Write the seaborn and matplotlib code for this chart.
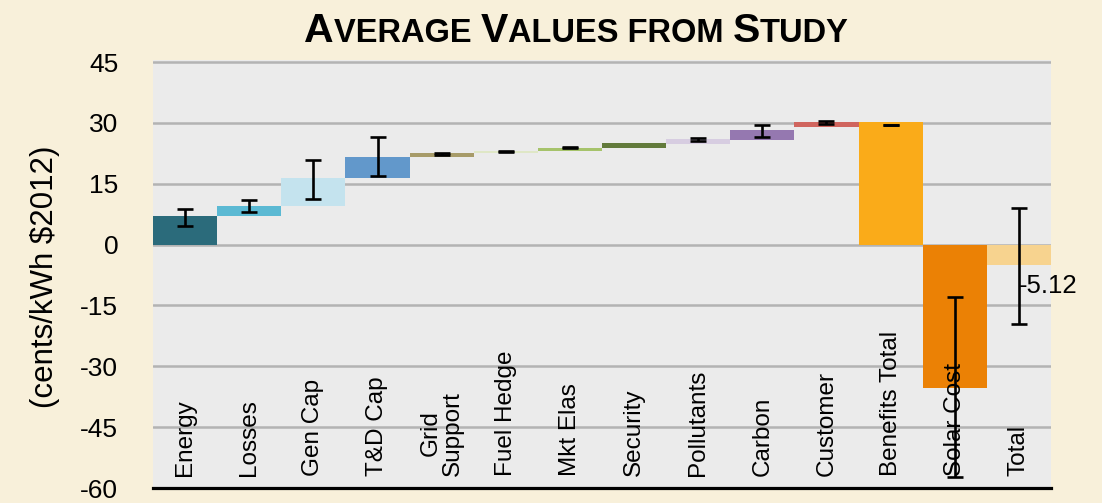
import numpy as np
import pandas as pd
import matplotlib
matplotlib.use("Agg")
import matplotlib.pyplot as plt
import seaborn as sns

# ---- data (cents/kWh, $2012) ----
categories = ["Energy", "Losses", "Gen Cap", "T&D Cap", "Grid\nSupport", "Fuel Hedge",
              "Mkt Elas", "Security", "Pollutants", "Carbon", "Customer",
              "Benefits Total", "Solar Cost", "Total"]
# where each floating bar starts and how much it adds
starts = [0.0, 7.05, 9.5, 16.4, 21.6, 22.65, 22.95, 23.85, 24.9, 25.8, 29.05, 0.0, 0.0, 0.0]
values = [7.05, 2.45, 6.9, 5.2, 1.05, 0.4, 0.9, 1.25, 1.1, 2.4, 1.15, 30.2, -35.32, -5.12]
# range of study estimates around each point
err_low = [4.5, 7.96, 11.24, 16.9, 22.2, 22.75, 23.75, np.nan, 25.5, 26.45, 29.8, 29.4, -57.36, -19.5]
err_high = [8.85, 11.0, 20.8, 26.5, 22.5, 23.05, 24.05, np.nan, 26.2, 29.45, 30.5, 29.6, -13.0, 9.1]
colors = ["#2b6b7b", "#5bb9d3", "#c4e3ee", "#6298cb", "#a79b69", "#dfe7c6", "#a6c36b",
          "#627a3b", "#d7cde1", "#9578b0", "#d0655e", "#faab19", "#eb8105", "#f7d38f"]
yticks = [45, 30, 15, 0, -15, -30, -45, -60]
title_parts = [("A", True), ("VERAGE ", False), ("V", True), ("ALUES FROM ", False),
               ("S", True), ("TUDY", False)]

sns.set_theme(style="white")
plt.rcParams["font.family"] = ["Liberation Sans", "DejaVu Sans"]
plt.rcParams["text.color"] = "black"
plt.rcParams["axes.labelcolor"] = "black"
plt.rcParams["ytick.color"] = "black"
plt.rcParams["xtick.color"] = "black"

BG = "#f8f0da"
PANEL = "#ebebeb"

fig = plt.figure(figsize=(11.02, 5.03), dpi=100, facecolor=BG)
ax = fig.add_axes([153 / 1102, 15 / 503, 898 / 1102, 428 / 503])
ax.set_facecolor(PANEL)

df = pd.DataFrame({"cat": categories, "val": values})
sns.barplot(data=df, x="cat", y="val", hue="cat", palette=colors, order=categories,
            hue_order=categories, width=1.0, errorbar=None, legend=False, ax=ax,
            saturation=1.0, linewidth=0, zorder=3)

# lift each bar to its waterfall starting level
for rect, s in zip(ax.patches, starts):
    rect.set_y(rect.get_y() + s)

# error bars
lo = np.array(err_low)
hi = np.array(err_high)
mid = (lo + hi) / 2
xs = np.arange(len(categories))
ok = ~np.isnan(mid)
ax.errorbar(xs[ok], mid[ok], yerr=[mid[ok] - lo[ok], hi[ok] - mid[ok]], fmt="none",
            ecolor="black", elinewidth=1.9, capsize=5.5, capthick=1.9, zorder=5)

ax.set_xlim(-0.5, len(categories) - 0.5)
ax.set_ylim(-60, 45.5)
ax.set_yticks(yticks)
ax.set_yticklabels([str(t) for t in yticks], fontsize=19)
ax.tick_params(axis="y", length=0, pad=25, labelcolor="black")
ax.set_xticks([])
ax.set_xlabel("")
ax.set_ylabel("(cents/kWh $2012)", fontsize=22.5, color="black")
ax.yaxis.set_label_coords(-0.1036, 0.493)

ax.grid(False)
for t in yticks[:-1]:
    ax.axhline(t, color="#b3b3b3", linewidth=1.8, zorder=1)

for side in ["top", "right", "left"]:
    ax.spines[side].set_visible(False)
ax.spines["bottom"].set_color("black")
ax.spines["bottom"].set_linewidth(2.3)
ax.spines["bottom"].set_position(("data", -60))
ax.spines["bottom"].set_zorder(6)

# category labels written upward inside the panel
for i, c in enumerate(categories):
    ax.text(i, -57.0, c, rotation=90, ha="center", va="bottom", fontsize=17.5,
            color="black", multialignment="center", linespacing=1.0, zorder=4)

# value of the net total
ax.text(len(categories) - 1, -10.2, f"{values[-1]:.2f}", ha="left", va="center",
        fontsize=18.5, color="black", clip_on=False, zorder=6)

# small-caps title assembled from large and small capitals
renderer = fig.canvas.get_renderer()
pieces = []
for txt, big in title_parts:
    t = fig.text(0, 0, txt, fontsize=29.5 if big else 23.5, fontweight="bold",
                 color="black", ha="left", va="baseline", transform=None)
    pieces.append(t)
widths = [p.get_window_extent(renderer=renderer).width for p in pieces]
total_w = sum(widths)
x0 = 576.5 - total_w / 2
base_y = 503 - 42
for p, w in zip(pieces, widths):
    p.set_position((x0, base_y))
    x0 += w

fig.savefig("out.png", dpi=100, facecolor=BG)
